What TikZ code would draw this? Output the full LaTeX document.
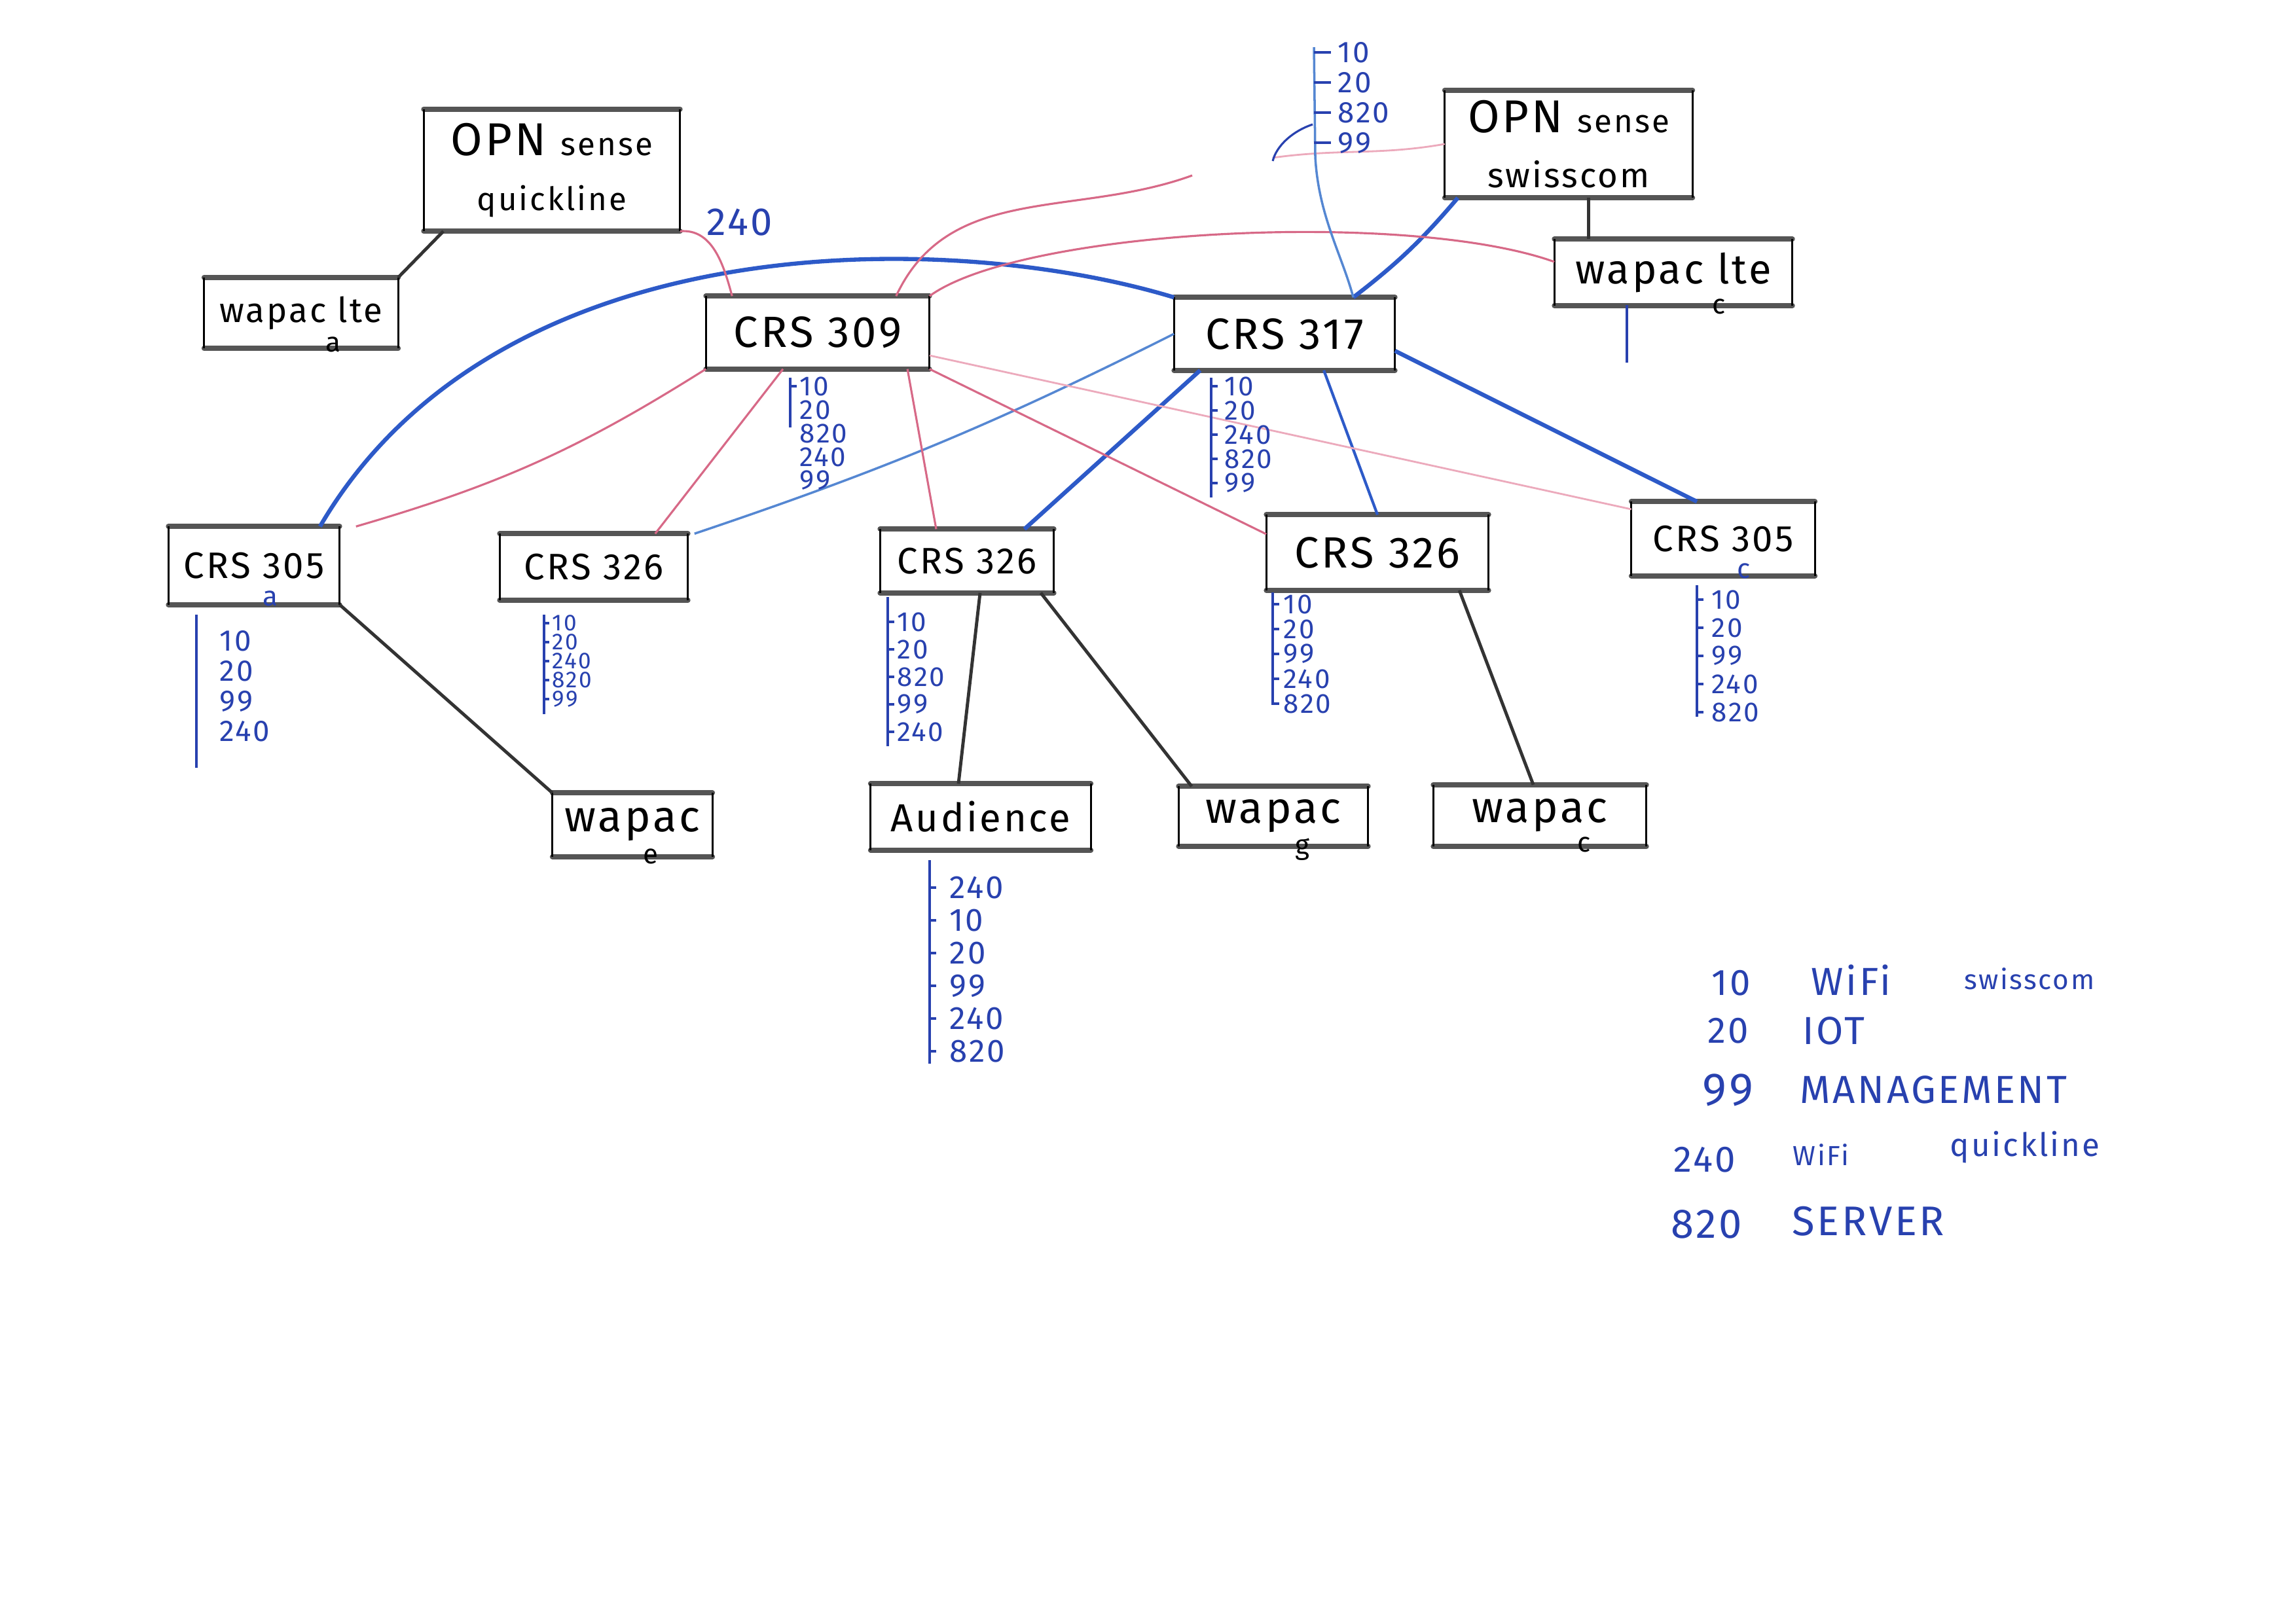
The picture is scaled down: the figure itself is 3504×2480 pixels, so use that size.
\documentclass[tikz,border=0pt]{standalone}
\usepackage{fontspec}
\setmainfont{Fira Sans}[LetterSpace=6]
\usetikzlibrary{calc}

\definecolor{rimgrey}{RGB}{85,85,85}
\definecolor{linkblue}{RGB}{45,90,200}
\definecolor{paleblue}{RGB}{85,135,210}
\definecolor{penblue}{RGB}{40,65,175}
\definecolor{linkpink}{RGB}{215,105,135}
\definecolor{palepink}{RGB}{236,170,188}

% bar x, bar top, bar bottom, first label y, step, font size, tick length, label offset, labels
\newcommand{\vlanstack}[9]{%
  \draw[vbar] (#1,#2) -- (#1,#3);
  \foreach \v [count=\i from 0] in {#9} {
    \draw[vbar] (#1,#4+\i*#5) -- ++(#7,0);
    \node[vlan, font=\fontsize{#6}{#6}\selectfont] at (#1+#8,#4+\i*#5) {\v};
  }%
}

\begin{document}
\begin{tikzpicture}[x=0.01cm, y=-0.01cm,
    devbox/.style={rectangle, inner sep=0pt, align=center, font=\fontsize{19}{24}\selectfont},
    small/.style={font=\fontsize{16}{20}\selectfont},
    rim/.style={rimgrey, line width=2.2pt, line cap=round},
    side/.style={black, line width=0.8pt},
    sub/.style={font=\fontsize{12}{12}\selectfont, inner sep=0pt},
    vlan/.style={penblue, anchor=west, inner sep=0pt},
    vbar/.style={penblue, line width=0.9pt},
    trunk/.style={linkblue, line width=1.8pt},
    thinblue/.style={paleblue, line width=1pt},
    pinkline/.style={linkpink, line width=0.9pt},
    palepinkline/.style={palepink, line width=0.8pt},
    cable/.style={black!80, line width=1.4pt},
    legend/.style={penblue, anchor=west, inner sep=0pt}]
\useasboundingbox (0,0) rectangle (3504,2480);

% devices
\node[devbox, minimum width=3.9cm, minimum height=1.85cm] (oq) at (843,260) {{\fontsize{20}{24}\selectfont OPN} {\fontsize{14}{18}\selectfont sense}\\{\fontsize{14}{18}\selectfont quickline}};
\node[devbox, font=\fontsize{15}{18}\selectfont, minimum width=2.95cm, minimum height=1.07cm] (wla) at (460,478) {wapac lte};
\node[devbox, minimum width=3.4cm, minimum height=1.1cm] (c309) at (1249,508) {CRS 309};
\node[devbox, minimum width=3.36cm, minimum height=1.1cm] (c317) at (1962,510) {CRS 317};
\node[devbox, minimum width=3.77cm, minimum height=1.63cm] (os) at (2396,220) {{\fontsize{20}{24}\selectfont OPN} {\fontsize{14}{18}\selectfont sense}\\{\fontsize{15}{18}\selectfont swisscom}};
\node[devbox, font=\fontsize{18}{22}\selectfont, minimum width=3.62cm, minimum height=1.0cm] (wlc) at (2556,416) {wapac lte};
\node[devbox, small, minimum width=2.6cm, minimum height=1.18cm] (c305a) at (388,864) {CRS 305};
\node[devbox, small, minimum width=2.86cm, minimum height=1.0cm] (c326a) at (907,866) {CRS 326};
\node[devbox, small, minimum width=2.64cm, minimum height=0.96cm] (c326b) at (1477,857) {CRS 326};
\node[devbox, minimum width=3.38cm, minimum height=1.14cm] (c326c) at (2104,844) {CRS 326};
\node[devbox, small, minimum width=2.79cm, minimum height=1.12cm] (c305c) at (2632,823) {CRS 305};
\node[devbox, minimum width=2.43cm, minimum height=0.96cm] (wpe) at (966,1260) {wapac};
\node[devbox, font=\fontsize{17}{20}\selectfont, minimum width=3.35cm, minimum height=1.0cm] (aud) at (1498,1248) {Audience};
\node[devbox, minimum width=2.88cm, minimum height=0.9cm] (wpg) at (1945,1247) {wapac};
\node[devbox, minimum width=3.24cm, minimum height=0.93cm] (wpc) at (2352,1246) {wapac};

\foreach \n in {oq,wla,c309,c317,os,wlc,c305a,c326a,c326b,c326c,c305c,wpe,aud,wpg,wpc} {
  \draw[rim] (\n.north west) -- (\n.north east);
  \draw[rim] (\n.south west) -- (\n.south east);
  \draw[side] (\n.north west) -- (\n.south west);
  \draw[side] (\n.north east) -- (\n.south east);
}

% site letters
\node[sub, penblue] (sa) at (413,914) {a};
\node[sub] (sla) at (509,526) {a};
\node[sub] (se) at (994,1308) {e};
\node[sub] (sg) at (1989,1298) {g};
\node[sub] (sc) at (2420,1290) {c};
\node[sub] (slc) at (2626,468) {c};
\node[sub, penblue] (scc) at (2664,872) {c};

% trunks
\draw[trunk] ([xshift=-0.3cm]c305a.north east) .. controls (760,340) and (1450,350) .. (c317.north west);
\draw[trunk] ([xshift=0.4cm]c317.south west) -- ([xshift=-0.45cm]c326b.north east);
\draw[trunk] ([yshift=-0.26cm]c317.east) -- ([xshift=-0.4cm]c305c.north);
\draw[trunk] ([xshift=0.2cm]os.south west) to[bend left=6] ([xshift=1.05cm]c317.north);
\draw[linkblue, line width=1.2pt] ([xshift=0.6cm]c317.south) -- (c326c.north);
\draw[thinblue] (c317.west) to[bend left=4] ([xshift=0.1cm]c326a.north east);

% quickline side
\coordinate (gapA) at (1821,268);
\coordinate (gapB) at (1944,241);
\draw[pinkline] (oq.south east) to[out=5, in=105] ([xshift=0.4cm]c309.north west);
\draw[pinkline] ([xshift=-0.51cm]c309.north east) to[out=65, in=200] (gapA);
\draw[palepinkline] (gapB) to[out=8, in=190] (os.west);
\draw[pinkline] (c309.north east) .. controls (1560,350) and (2150,320) .. ([yshift=0.16cm]wlc.west);
\draw[pinkline] ([xshift=-0.53cm]c309.south) -- ([xshift=-0.5cm]c326a.north east);
\draw[pinkline] (c309.south west) to[bend left=8] ([xshift=0.25cm]c305a.north east);
\draw[pinkline] ([xshift=1.37cm]c309.south) -- ([xshift=-0.47cm]c326b.north);
\draw[palepinkline] ([yshift=-0.35cm]c309.east) -- ([yshift=0.45cm]c305c.west);
\draw[pinkline] (c309.south east) -- ([yshift=0.28cm]c326c.west);
\node[legend, font=\fontsize{17}{17}\selectfont] (t240) at (1079,340) {240};

% access cables
\coordinate (osdrop) at ([xshift=0.3cm]os.south);
\draw[cable] ([xshift=0.3cm]oq.south west) -- (wla.north east);
\draw[cable] (c305a.south east) -- (wpe.north west);
\draw[cable] ([xshift=0.2cm]c326b.south) -- ([xshift=-0.34cm]aud.north);
\draw[cable] ([xshift=-0.2cm]c326b.south east) -- ([xshift=0.2cm]wpg.north west);
\draw[cable] ([xshift=1.25cm]c326c.south) -- ([xshift=-0.1cm]wpc.north);
\draw[cable] (osdrop) -- (osdrop |- wlc.north);

% vlan lists
\coordinate (vtop) at (2007,72);
\draw[thinblue] (vtop) -- (2009,240) .. controls (2014,330) and (2050,390) .. ([xshift=1.05cm]c317.north);
\draw[vbar] (2005,190) .. controls (1975,200) and (1950,222) .. (1944,246);
\vlanstack{2007}{72}{72}{80}{46}{13}{26}{36}{10,20,820,99}
\vlanstack{1207}{577}{653}{590}{36}{12}{0}{14}{10,20,820,240,99}
\draw[vbar] (1207,590) -- ++(10,0);
\vlanstack{1850}{577}{760}{590}{37}{12}{10}{20}{10,20,240,820,99}
\vlanstack{300}{939}{1173}{979}{46}{13}{0}{35}{10,20,99,240}
\vlanstack{831}{939}{1091}{952}{29}{10}{8}{12}{10,20,240,820,99}
\vlanstack{1356}{912}{1140}{950}{42}{12}{10}{14}{10,20,820,99,240}
\vlanstack{1944}{905}{1077}{923}{38}{12}{10}{16}{10,20,99,240,820}
\vlanstack{2592}{894}{1095}{916}{43}{12}{10}{22}{10,20,99,240,820}
\vlanstack{1420}{1314}{1625}{1356}{50}{14}{10}{30}{240,10,20,99,240,820}
\vlanstack{2485}{466}{554}{518}{0}{10}{22}{0}{}

% legend
\node[legend, font=\fontsize{16}{16}\selectfont] (k10) at (2614,1502) {10};
\node[legend, font=\fontsize{17}{17}\selectfont] (w10) at (2766,1497) {WiFi};
\node[legend, font=\fontsize{12}{12}\selectfont] (s10) at (3000,1495) {swisscom};
\node[legend, font=\fontsize{16}{16}\selectfont] (k20) at (2608,1575) {20};
\node[legend, font=\fontsize{17}{17}\selectfont] (w20) at (2753,1575) {IOT};
\node[legend, font=\fontsize{20}{20}\selectfont] (k99) at (2600,1665) {99};
\node[legend, font=\fontsize{17}{17}\selectfont] (w99) at (2749,1665) {MANAGEMENT};
\node[legend, font=\fontsize{16}{16}\selectfont] (k240) at (2556,1772) {240};
\node[legend, font=\fontsize{12}{12}\selectfont] (w240) at (2738,1764) {WiFi};
\node[legend, font=\fontsize{14}{14}\selectfont] (s240) at (2978,1752) {quickline};
\node[legend, font=\fontsize{18}{18}\selectfont] (k820) at (2552,1870) {820};
\node[legend, font=\fontsize{18}{18}\selectfont] (w820) at (2737,1866) {SERVER};
\end{tikzpicture}
\end{document}
